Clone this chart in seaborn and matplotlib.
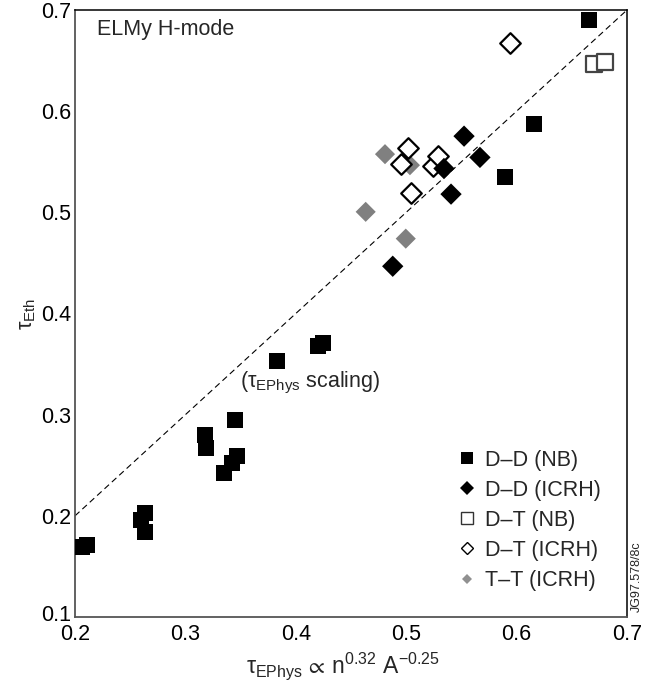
import matplotlib
matplotlib.use("Agg")
import matplotlib.pyplot as plt
import matplotlib.transforms as mtransforms
from matplotlib.lines import Line2D
import seaborn as sns
import pandas as pd

# Confinement times: x = tau_EPhys scaling prediction, y = measured tau_Eth (s)
dd_nb_x = [0.206, 0.211, 0.2598, 0.2634, 0.2634, 0.3178, 0.319, 0.335, 0.342, 0.3464,
           0.345, 0.3827, 0.4198, 0.4249, 0.5895, 0.6158, 0.6656]
dd_nb_y = [0.1695, 0.171, 0.196, 0.2025, 0.1837, 0.280, 0.267, 0.2426, 0.252, 0.259,
           0.295, 0.353, 0.368, 0.371, 0.5351, 0.5877, 0.6897]

dd_icrh_x = [0.4878, 0.5406, 0.5342, 0.5524, 0.5668]
dd_icrh_y = [0.4467, 0.518, 0.5433, 0.5753, 0.5543]

dt_nb_x = [0.670, 0.680]
dt_nb_y = [0.6466, 0.649]

dt_icrh_x = [0.5043, 0.495, 0.5019, 0.5246, 0.529, 0.594]
dt_icrh_y = [0.5195, 0.548, 0.564, 0.5455, 0.5555, 0.6677]

tt_icrh_x = [0.4633, 0.4996, 0.4808, 0.5034]
tt_icrh_y = [0.5005, 0.474, 0.5575, 0.5466]

series_names = ["D\u2013D (NB)", "D\u2013D (ICRH)", "D\u2013T (NB)", "D\u2013T (ICRH)", "T\u2013T (ICRH)"]

x_ticks = [0.2, 0.3, 0.4, 0.5, 0.6, 0.7]
y_ticks = [0.1, 0.2, 0.3, 0.4, 0.5, 0.6, 0.7]

FS = 15.5

sns.set_theme(style="white")
plt.rcParams["font.family"] = ["Liberation Sans", "DejaVu Sans"]
plt.rcParams["mathtext.fontset"] = "custom"
plt.rcParams["mathtext.rm"] = "Liberation Sans"
plt.rcParams["mathtext.it"] = "Liberation Sans"
plt.rcParams["mathtext.bf"] = "Liberation Sans:bold"
plt.rcParams["mathtext.fallback"] = "stixsans"

frames = []
for name, xs, ys in zip(series_names,
                        [dd_nb_x, dd_icrh_x, dt_nb_x, dt_icrh_x, tt_icrh_x],
                        [dd_nb_y, dd_icrh_y, dt_nb_y, dt_icrh_y, tt_icrh_y]):
    frames.append(pd.DataFrame({"x": xs, "y": ys, "group": name}))
df = pd.concat(frames, ignore_index=True)

styles = {
    series_names[0]: dict(marker="s", s=135, color="black", edgecolor="none", linewidth=0),
    series_names[1]: dict(marker="D", s=118, color="black", edgecolor="none", linewidth=0),
    series_names[2]: dict(marker="s", s=120, color="white", edgecolor="#444444", linewidth=1.6),
    series_names[3]: dict(marker="D", s=110, color="white", edgecolor="black", linewidth=1.6),
    series_names[4]: dict(marker="D", s=105, color="#808080", edgecolor="none", linewidth=0),
}

fig = plt.figure(figsize=(6.57, 6.82), dpi=100)
ax = fig.add_axes([75 / 657, 65 / 682, 552 / 657, 607 / 682])

# Line of equality
ax.plot([0.2, 0.7], [0.2, 0.7], color="black", linestyle=(0, (5.5, 3.5)), linewidth=0.8, zorder=1)

draw_order = [series_names[0], series_names[2], series_names[4], series_names[3], series_names[1]]
for name in draw_order:
    sub = df[df["group"] == name]
    sns.scatterplot(data=sub, x="x", y="y", ax=ax, legend=False, zorder=3, **styles[name])

ax.set_xlim(0.2, 0.7)
ax.set_ylim(0.1, 0.7)
ax.set_xticks(x_ticks)
ax.set_yticks(y_ticks)
ax.set_xticklabels([f"{v:.1f}" for v in x_ticks])
ax.set_yticklabels([f"{v:.1f}" for v in y_ticks])
ax.tick_params(axis="both", direction="in", length=12, width=1.3, color="#666666",
               labelsize=FS, labelcolor="black")
ax.tick_params(axis="x", pad=5, top=False)
ax.tick_params(axis="y", pad=3, right=False)

# Lift the lowest y label slightly so it clears the first x label at the corner
lowest = ax.get_yticklabels()[0]
lowest.set_transform(lowest.get_transform()
                     + mtransforms.ScaledTranslation(0, 4 / 100, fig.dpi_scale_trans))

for side in ["left", "bottom"]:
    ax.spines[side].set_color("#555555")
    ax.spines[side].set_linewidth(1.3)
for side in ["top", "right"]:
    ax.spines[side].set_color("black")
    ax.spines[side].set_linewidth(1.1)

ax.set_xlabel(r"$\tau_{\rm EPhys}\,\propto\,{\rm n}^{0.32}\ {\rm A}^{-0.25}$", fontsize=16.5, labelpad=5)
ax.xaxis.set_label_coords((343 - 75) / 552, -0.055)
ax.xaxis.label.set_va("top")
ax.set_ylabel(r"$\tau_{\rm Eth}$", fontsize=FS, labelpad=2)

ax.text(0.2195, 0.681, "ELMy H-mode", fontsize=FS, ha="left", va="center")
ax.text(0.3495, 0.331, r"$(\tau_{\rm EPhys}$ scaling)", fontsize=FS, ha="left", va="center")
fig.text(637 / 657, 1 - 577 / 682, "JG97.578/8c", fontsize=9, rotation=90,
         ha="center", va="center")

handles = [
    Line2D([], [], linestyle="none", marker="s", markersize=8.5, markerfacecolor="black",
           markeredgecolor="black", markeredgewidth=0),
    Line2D([], [], linestyle="none", marker="D", markersize=7.5, markerfacecolor="black",
           markeredgecolor="black", markeredgewidth=0),
    Line2D([], [], linestyle="none", marker="s", markersize=8.5, markerfacecolor="white",
           markeredgecolor="#333333", markeredgewidth=1.0),
    Line2D([], [], linestyle="none", marker="D", markersize=6.5, markerfacecolor="white",
           markeredgecolor="black", markeredgewidth=1.0),
    Line2D([], [], linestyle="none", marker="D", markersize=5.5, markerfacecolor="#909090",
           markeredgecolor="#909090", markeredgewidth=0),
]
ax.legend(handles, series_names, loc="lower right", bbox_to_anchor=(0.972, 0.025),
          frameon=False, fontsize=FS, handlelength=0.8, handletextpad=0.45,
          labelspacing=0.42, borderpad=0.0)

fig.savefig("out.png", dpi=100)
